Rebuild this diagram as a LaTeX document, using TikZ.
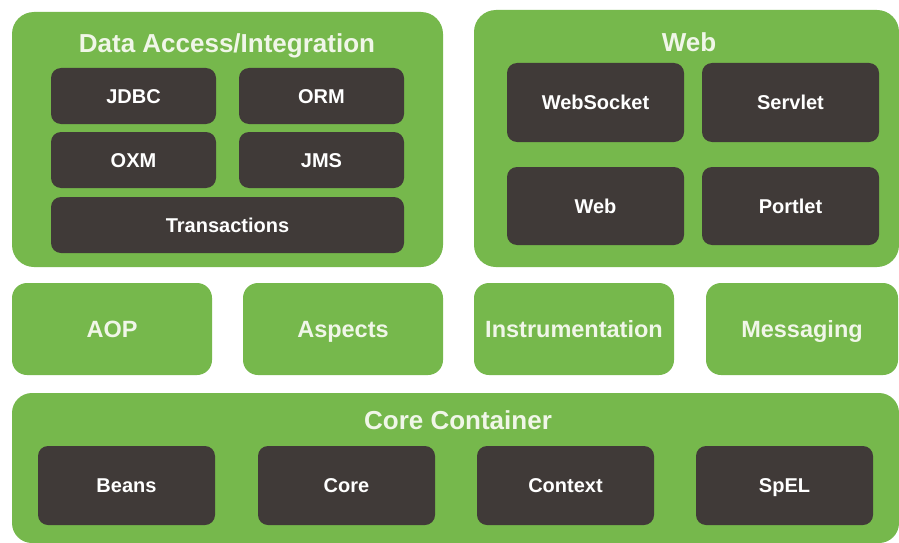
\documentclass[tikz,border=0pt]{standalone}
\usepackage{fontspec}
\setmainfont{Liberation Sans}
\usepackage{tikz}
\definecolor{springgreen}{RGB}{118,184,76}
\definecolor{springdark}{RGB}{64,58,56}
\definecolor{titlewhite}{RGB}{240,246,232}
\tikzset{
  group/.style={fill=springgreen, rounded corners=22pt, inner sep=0pt},
  layer/.style={fill=springgreen, rounded corners=15pt, inner sep=0pt, text=titlewhite,
    text height=17pt, text depth=0pt, font=\bfseries\fontsize{23.5}{26}\selectfont},
  module/.style={fill=springdark, rounded corners=10pt, inner sep=0pt, text=white,
    text height=14.4pt, text depth=0pt, font=\bfseries\fontsize{20}{24}\selectfont},
  grouptitle/.style={text=titlewhite, inner sep=0pt, text height=18.7pt, text depth=0pt,
    font=\bfseries\fontsize{26}{30}\selectfont}
}

\begin{document}
\begin{tikzpicture}[x=1pt, y=-1pt]
  \useasboundingbox[fill=white] (0, 0) rectangle (899, 543);

  \node[group, minimum width=431, minimum height=255] at (227.5, 139.5) (data) {};
  \node[grouptitle] at (227, 43) (datatitle) {Data Access/Integration};
  \node[module, minimum width=165, minimum height=56] at (133.5, 96) (jdbc) {JDBC};
  \node[module, minimum width=165, minimum height=56] at (321.5, 96) (orm) {ORM};
  \node[module, minimum width=165, minimum height=56] at (133.5, 160) (oxm) {OXM};
  \node[module, minimum width=165, minimum height=56] at (321.5, 160) (jms) {JMS};
  \node[module, minimum width=353, minimum height=56] at (227.5, 225) (tx) {Transactions};

  \node[group, minimum width=425, minimum height=257] at (686.5, 138.5) (web) {};
  \node[grouptitle] at (689, 42) (webtitle) {Web};
  \node[module, minimum width=177, minimum height=79] at (595.5, 102.5) (websocket) {WebSocket};
  \node[module, minimum width=177, minimum height=79] at (790.5, 102.5) (servlet) {Servlet};
  \node[module, minimum width=177, minimum height=78] at (595.5, 206) (webmod) {Web};
  \node[module, minimum width=177, minimum height=78] at (790.5, 206) (portlet) {Portlet};

  \node[layer, minimum width=200, minimum height=92] at (112, 329) (aop) {AOP};
  \node[layer, minimum width=200, minimum height=92] at (343, 329) (aspects) {Aspects};
  \node[layer, minimum width=200, minimum height=92] at (574, 329) (instr) {Instrumentation};
  \node[layer, minimum width=192, minimum height=92] at (802, 329) (msg) {Messaging};

  \node[group, rounded corners=20pt, minimum width=887, minimum height=150] at (455.5, 468) (core) {};
  \node[grouptitle] at (458, 420) (coretitle) {Core Container};
  \foreach \x/\n/\t in {126.5/beans/Beans, 346.5/coremod/Core, 565.5/context/Context, 784.5/spel/SpEL}
    \node[module, minimum width=177, minimum height=79] at (\x, 485.5) (\n) {\t};
\end{tikzpicture}
\end{document}
